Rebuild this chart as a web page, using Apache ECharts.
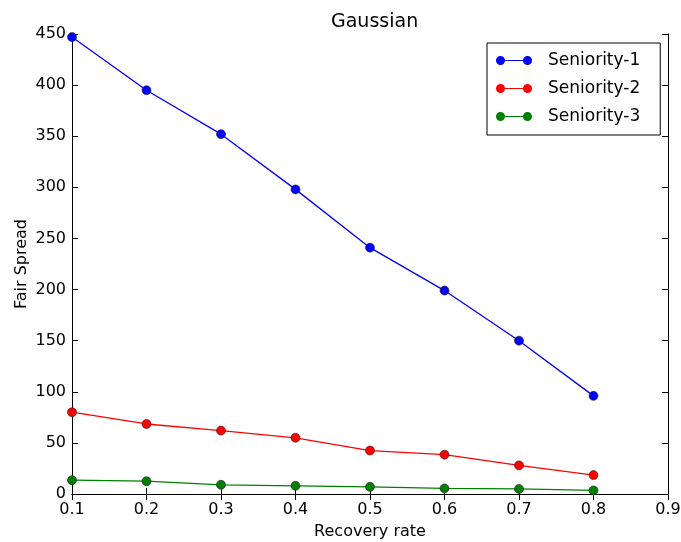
<!DOCTYPE html>
<html>
<head>
<meta charset="utf-8">
<script src="https://cdn.jsdelivr.net/npm/echarts@6/dist/echarts.min.js"></script>
<style>
  html, body { margin: 0; padding: 0; background: #fff; }
  #chart { width: 681px; height: 542px; }
</style>
</head>
<body>
<div id="chart"></div>
<script>
// data
const recoveryRates = [0.1, 0.2, 0.3, 0.4, 0.5, 0.6, 0.7, 0.8];
const seniority1 = [447, 395, 352, 298, 241, 199, 150, 96];
const seniority2 = [80, 68.5, 62, 55, 42.5, 38.5, 28, 18.5];
const seniority3 = [13.5, 12.5, 9, 8, 7, 5.5, 5, 3.5];
const seriesNames = ['Seniority-1', 'Seniority-2', 'Seniority-3'];
const seriesColors = ['#0000ff', '#ff0000', '#007f00'];

const FONT = 'DejaVu Sans';
const chart = echarts.init(document.getElementById('chart'));

function pairs(vals) {
    return recoveryRates.map((x, i) => [x, vals[i]]);
}

// line with a dot at each end, like the matplotlib legend
const legendIcon = 'path://M0,5 A5,5 0 1,1 10,5 A5,5 0 1,1 0,5 Z M5,4.4 H35 V5.6 H5 Z M30,5 A5,5 0 1,1 40,5 A5,5 0 1,1 30,5 Z';

const allValues = [seniority1, seniority2, seniority3];

const baseX = {
    type: 'value', min: 0.1, max: 0.9, interval: 0.1,
    axisLine: { show: true, lineStyle: { color: '#000', width: 1 } },
    axisTick: { show: true, inside: true, length: 6, lineStyle: { color: '#000' } },
    splitLine: { show: false }
};
const baseY = {
    type: 'value', min: 0, max: 450, interval: 50,
    axisLine: { show: true, lineStyle: { color: '#000', width: 1 } },
    axisTick: { show: true, inside: true, length: 6, lineStyle: { color: '#000' } },
    splitLine: { show: false }
};

chart.setOption({
    animation: false,
    textStyle: { fontFamily: FONT },
    title: {
        text: 'Gaussian',
        left: 326, top: 8,
        textStyle: { fontFamily: FONT, fontSize: 19, fontWeight: 'normal', color: '#000' }
    },
    legend: {
        orient: 'vertical',
        left: 487, top: 43,
        padding: [9, 20, 10, 9],
        itemWidth: 36, itemHeight: 10, itemGap: 11,
        borderColor: '#000', borderWidth: 1,
        itemStyle: { borderWidth: 0 },
        textStyle: { fontFamily: FONT, fontSize: 17, color: '#000', padding: [0, 0, 0, 11] },
        data: seriesNames.map(n => ({ name: n, icon: legendIcon }))
    },
    grid: { left: 72, right: 13, top: 34, bottom: 48, containLabel: false, outerBoundsMode: 'none' },
    xAxis: [
        Object.assign({}, baseX, {
            position: 'bottom',
            name: 'Recovery rate', nameLocation: 'middle', nameGap: 30,
            nameMoveOverlap: false,
            nameTextStyle: { fontFamily: FONT, fontSize: 16, color: '#000' },
            axisLabel: {
                fontFamily: FONT, fontSize: 16, color: '#000', margin: 8,
                formatter: v => v.toFixed(1)
            }
        }),
        Object.assign({}, baseX, { position: 'top', axisLabel: { show: false } })
    ],
    yAxis: [
        Object.assign({}, baseY, {
            position: 'left',
            name: 'Fair Spread', nameLocation: 'middle', nameGap: 42,
            nameMoveOverlap: false,
            nameTextStyle: { fontFamily: FONT, fontSize: 16, color: '#000' },
            axisLabel: { fontFamily: FONT, fontSize: 16, color: '#000', margin: 6 }
        }),
        Object.assign({}, baseY, { position: 'right', axisLabel: { show: false } })
    ],
    series: seriesNames.map((name, k) => ({
        name: name,
        type: 'line',
        data: pairs(allValues[k]),
        symbol: 'circle',
        symbolSize: 9,
        clip: false,
        itemStyle: { color: seriesColors[k], borderColor: '#222', borderWidth: 0.6 },
        lineStyle: { color: seriesColors[k], width: 1.3 }
    }))
});
</script>
</body>
</html>
